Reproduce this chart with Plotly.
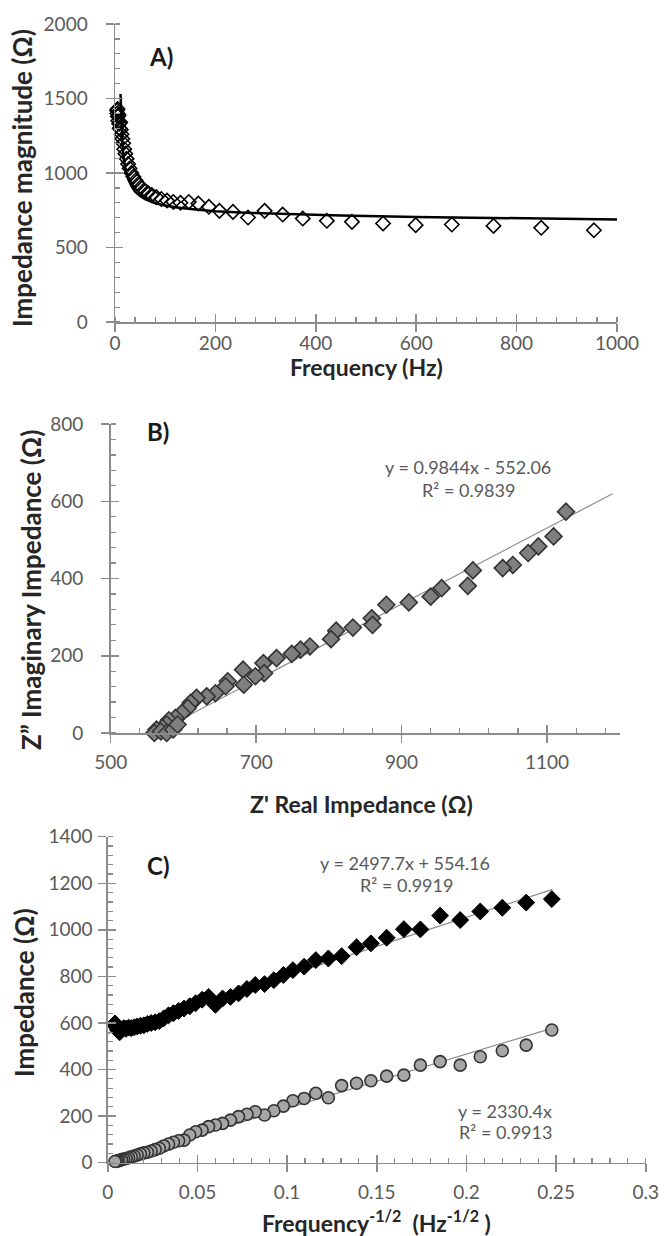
import plotly.graph_objects as go

W, H = 664, 1236

# ---------------- Panel A data (impedance magnitude vs frequency) ----------------
a_freq = [4.1, 4.6, 5.2, 5.8, 6.5, 7.3, 8.2, 9.2, 10.3, 11.6, 13.0, 14.6, 16.4, 18.4,
          20.6, 23.1, 26.0, 29.1, 32.7, 36.7, 41.2, 46.2, 51.8, 58.2, 65.3, 73.3,
          82.2, 92.3, 103.6, 116.2, 130.4, 147, 166, 187, 208, 235, 265, 298, 334,
          374, 422, 472, 534, 599, 671, 754, 849, 954]
a_mag = [1420, 1400, 1430, 1380, 1350, 1390, 1330, 1300, 1340, 1290, 1260, 1230, 1200,
         1160, 1130, 1095, 1060, 1030, 1000, 975, 950, 925, 905, 885, 868, 852,
         838, 826, 815, 806, 800, 806, 795, 773, 746, 739, 701, 746, 721, 694, 679,
         672, 661, 650, 654, 645, 632, 616]
# model curve drawn as solid black line
a_fit_f = [11, 12, 13, 15, 18, 22, 27, 33, 40, 50, 60, 75, 95, 120, 150, 200, 270,
           350, 450, 600, 800, 1000]
a_fit_z = [1530, 1400, 1300, 1180, 1080, 1010, 955, 910, 875, 845, 825, 803, 785, 770,
           758, 744, 732, 722, 714, 705, 696, 688]

# ---------------- Panel B data (Nyquist) ----------------
b_real = [1126, 1109, 1088, 1074, 1053, 1039, 998, 991, 955, 940, 910, 879, 859, 860,
          833, 810, 803, 774, 761, 749, 728, 710, 711, 699, 682, 683, 661, 658, 644,
          632, 618, 610, 606, 598, 589, 580, 577, 571, 563, 560, 569, 577, 586, 592, 583]
b_imag = [573, 509, 483, 466, 435, 427, 421, 381, 375, 353, 338, 332, 297, 280, 273,
          265, 243, 224, 216, 205, 194, 181, 155, 147, 164, 125, 134, 121, 103, 95, 91,
          78, 65, 52, 39, 33, 22, 13, 9, 0, 4, 0, 9, 22, -3]
b_slope, b_intercept = 0.9844, -552.06
b_trend_x = [561, 1190]

# ---------------- Panel C data (Randles plot) ----------------
c_x = [0.2476, 0.2333, 0.2200, 0.2077, 0.1965, 0.1853, 0.1743, 0.1651, 0.1555, 0.1467,
       0.1387, 0.1304, 0.1230, 0.1160, 0.1095, 0.1032, 0.0979, 0.0926, 0.0874, 0.0822,
       0.0776, 0.0729, 0.0684, 0.0640, 0.0600, 0.0562, 0.0526, 0.0490, 0.0457, 0.0425,
       0.0395, 0.0366, 0.0339, 0.0312, 0.0287, 0.0264, 0.0242, 0.0221, 0.0201, 0.0182,
       0.0164, 0.0147, 0.0131, 0.0116, 0.0102, 0.0089, 0.0077, 0.0066, 0.0056, 0.0047,
       0.0040]
c_real = [1132, 1117, 1095, 1079, 1042, 1061, 1002, 1003, 966, 942, 925, 887, 877, 870,
          842, 827, 806, 784, 767, 763, 746, 727, 712, 705, 678, 712, 700, 685, 672,
          662, 652, 642, 633, 620, 608, 603, 600, 596, 590, 588, 585, 582, 578, 580,
          575, 578, 572, 560, 570, 585, 598]
c_imag = [570, 505, 481, 455, 419, 434, 419, 376, 372, 352, 341, 331, 279, 298, 276,
          266, 243, 223, 205, 219, 208, 198, 183, 169, 162, 155, 140, 133, 119, 97, 94,
          88, 80, 72, 62, 56, 50, 45, 42, 38, 33, 29, 25, 21, 18, 16, 13, 10, 8, 6, 5]
c_real_slope, c_real_intercept = 2497.7, 554.16
c_imag_slope = 2330.4
c_trend_x = [0.0, 0.248]

# ---------------- helpers ----------------
def px(x):
    return x / W

def py(y):
    return 1 - y / H

AXC = '#8c8c8c'
FONT = 'Lato'

def axis(rng, dtick, mdtick, dom, standoff):
    return dict(range=rng, domain=dom, tick0=rng[0], dtick=dtick, showgrid=False,
                zeroline=False, showline=True, linecolor=AXC, linewidth=1.5,
                ticks='outside', ticklen=8, tickwidth=1.5, tickcolor=AXC,
                tickfont=dict(family=FONT, size=19, color='#595959'),
                ticklabelstandoff=standoff,
                minor=dict(ticks='inside', ticklen=5, tickwidth=1.2, tickcolor=AXC,
                           dtick=mdtick, tick0=rng[0], showgrid=False),
                fixedrange=True)

def inner(rng, dtick, dom, over, anchor, side):
    return dict(range=rng, domain=dom, tick0=rng[0], dtick=dtick, overlaying=over,
                anchor=anchor, side=side, showgrid=False, zeroline=False,
                showline=False, ticks='inside', ticklen=8, tickwidth=1.5,
                tickcolor=AXC, showticklabels=False, fixedrange=True)

A_x = [px(115), px(617)]
A_y = [py(322), py(24)]
B_x = [px(110.7), px(619.8)]
B_y = [py(733), py(424)]
C_x = [px(107.8), px(645.8)]
C_y = [py(1162.7), py(836.7)]

fig = go.Figure()

# Panel A
fig.add_trace(go.Scatter(x=a_fit_f, y=a_fit_z, mode='lines', line=dict(color='black', width=2.5),
                         xaxis='x', yaxis='y', showlegend=False, cliponaxis=False))
fig.add_trace(go.Scatter(x=a_freq, y=a_mag, mode='markers',
                         marker=dict(symbol='diamond-open', size=11, color='black',
                                     line=dict(width=1.6, color='black')),
                         xaxis='x', yaxis='y', showlegend=False, cliponaxis=False))

# Panel B
b_trend_y = [b_slope * v + b_intercept for v in b_trend_x]
fig.add_trace(go.Scatter(x=b_trend_x, y=b_trend_y, mode='lines', line=dict(color='#8c8c8c', width=1.2),
                         xaxis='x2', yaxis='y2', showlegend=False))
fig.add_trace(go.Scatter(x=b_real, y=b_imag, mode='markers',
                         marker=dict(symbol='diamond', size=13, color='#7f7f7f',
                                     line=dict(width=1.6, color='#333333')),
                         xaxis='x2', yaxis='y2', showlegend=False, cliponaxis=False))

# Panel C
c_real_trend = [c_real_slope * v + c_real_intercept for v in c_trend_x]
c_imag_trend = [c_imag_slope * v for v in c_trend_x]
fig.add_trace(go.Scatter(x=c_trend_x, y=c_real_trend, mode='lines', line=dict(color='#8c8c8c', width=1.2),
                         xaxis='x3', yaxis='y3', showlegend=False))
fig.add_trace(go.Scatter(x=c_trend_x, y=c_imag_trend, mode='lines', line=dict(color='#8c8c8c', width=1.2),
                         xaxis='x3', yaxis='y3', showlegend=False))
fig.add_trace(go.Scatter(x=c_x, y=c_real, mode='markers',
                         marker=dict(symbol='diamond', size=13, color='black',
                                     line=dict(width=1, color='black')),
                         xaxis='x3', yaxis='y3', showlegend=False, cliponaxis=False))
fig.add_trace(go.Scatter(x=c_x, y=c_imag, mode='markers',
                         marker=dict(symbol='circle', size=12, color='#a6a6a6',
                                     line=dict(width=1.6, color='#333333')),
                         xaxis='x3', yaxis='y3', showlegend=False, cliponaxis=False))

fig.update_layout(
    width=W, height=H, margin=dict(l=0, r=0, t=0, b=0, autoexpand=False),
    paper_bgcolor='white', plot_bgcolor='rgba(0,0,0,0)', showlegend=False,
    font=dict(family=FONT),
    xaxis=axis([0, 1000], 200, 40, A_x, -4) | dict(anchor='y'),
    yaxis=axis([0, 2000], 500, 100, A_y, 14) | dict(anchor='x'),
    xaxis2=axis([500, 1200], 200, 40, B_x, 4) | dict(anchor='y2'),
    yaxis2=axis([0, 800], 200, 40, B_y, 14) | dict(anchor='x2'),
    xaxis3=axis([0, 0.3], 0.05, 0.01, C_x, 4) | dict(anchor='y3'),
    yaxis3=axis([0, 1400], 200, 40, C_y, 2) | dict(anchor='x3'),
    xaxis4=inner([0, 1000], 200, A_x, 'x', 'y', 'bottom'),
    yaxis4=inner([0, 2000], 500, A_y, 'y', 'x', 'left'),
    xaxis5=inner([500, 1200], 200, B_x, 'x2', 'y2', 'bottom'),
    yaxis5=inner([0, 800], 200, B_y, 'y2', 'x2', 'left'),
    xaxis6=inner([0, 0.3], 0.05, C_x, 'x3', 'y3', 'bottom'),
    yaxis6=inner([0, 1400], 200, C_y, 'y3', 'x3', 'left'),
)
for xa, ya in (('x4', 'y4'), ('x5', 'y5'), ('x6', 'y6')):
    fig.add_trace(go.Scatter(x=[None], y=[None], xaxis=xa, yaxis=ya, showlegend=False,
                             hoverinfo='skip', mode='markers'))

TITLE = dict(family=FONT, size=23, color='#262626')
VTITLE = dict(family=FONT, size=26, color='#262626')
EQ = dict(family=FONT, size=18, color='#595959')
LBL = dict(family=FONT, size=24, color='#1a1a1a')

ann = [
    # panel labels
    (161, 57, '<b>A)</b>', LBL, 0),
    (158, 431, '<b>B)</b>', LBL, 0),
    (158, 865, '<b>C)</b>', LBL, 0),
    # axis titles
    (366, 367, '<b>Frequency (Hz)</b>', TITLE, 0),
    (22, 178, '<b>Impedance magnitude (Ω)</b>', VTITLE, -90),
    (361, 804, "<b>Z' Real Impedance (Ω)</b>", TITLE, 0),
    (31, 590, '<b>Z” Imaginary Impedance (Ω)</b>', VTITLE, -90),
    (376, 1221, '<b>Frequency<sup>-1/2</sup>  (Hz<sup>-1/2</sup> )</b>', TITLE, 0),
    (24, 993, '<b>Impedance (Ω)</b>', VTITLE, -90),
    # equations
    (468, 467, 'y = 0.9844x - 552.06', EQ, 0),
    (468, 490, 'R² = 0.9839', EQ, 0),
    (405, 863, 'y = 2497.7x + 554.16', EQ, 0),
    (406, 885, 'R² = 0.9919', EQ, 0),
    (505, 1111, 'y = 2330.4x', EQ, 0),
    (505, 1132, 'R² = 0.9913', EQ, 0),
]
for x, y, t, f, ang in ann:
    fig.add_annotation(x=px(x), y=py(y), xref='paper', yref='paper', text=t, showarrow=False,
                       font=f, textangle=ang, xanchor='center', yanchor='middle')

fig.write_html('out.html', config={'displayModeBar': False, 'staticPlot': True},
               post_script="document.body.style.margin='0px';")
